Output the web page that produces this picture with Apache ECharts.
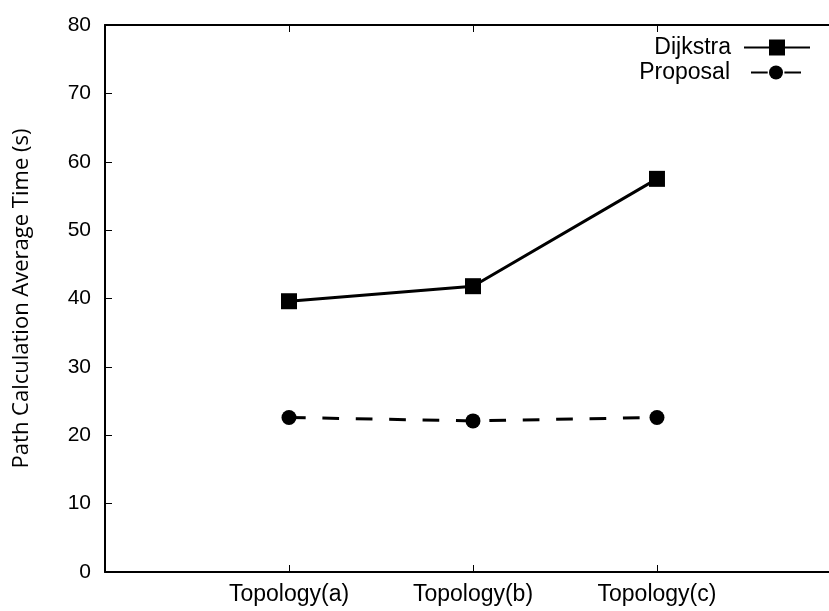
<!DOCTYPE html>
<html>
<head>
<meta charset="utf-8">
<script src="https://cdn.jsdelivr.net/npm/echarts@6/dist/echarts.min.js"></script>
<style>
  html, body { margin: 0; padding: 0; background: #fff; }
  #chart { width: 829px; height: 611px; }
</style>
</head>
<body>
<div id="chart"></div>
<script>
// topologies on the x axis, times in seconds
const categories = ['Topology(a)', 'Topology(b)', 'Topology(c)']
const dijkstra = [39.6, 41.8, 57.5]
const proposal = [22.6, 22.1, 22.6]
const yTicks = [0, 10, 20, 30, 40, 50, 60, 70, 80]

const toPoints = vals => categories.map((c, i) => [i + 1, vals[i]])
const catLabel = v => categories[v - 1] || ''

const myChart = echarts.init(document.getElementById('chart'))

const tickFont = { color: '#000', fontFamily: 'Liberation Sans', fontSize: 21 }
const bigFont = { ...tickFont, fontSize: 23 }
const xMax = 3.935 // the plot runs past the right edge of the picture

myChart.setOption({
	animation: false,
	backgroundColor: '#fff',
	grid: { left: 105, top: 25, bottom: 39, right: 0, containLabel: false },
	legend: [
		{
			data: ['Dijkstra'],
			right: 18, top: 36, padding: 0,
			align: 'right',
			itemWidth: 66, itemHeight: 20,
			textStyle: { ...bigFont, padding: [0, 8, 0, 0] }
		},
		{
			data: ['Proposal'],
			right: 27, top: 61, padding: 0,
			align: 'right',
			itemWidth: 50, itemHeight: 17.5,
			textStyle: { ...bigFont, padding: [0, 16, 0, 0] }
		}
	],
	xAxis: [
		{
			type: 'value', min: 0, max: xMax, interval: 1,
			axisLine: { lineStyle: { color: '#000', width: 2 } },
			axisTick: { inside: true, length: 7, lineStyle: { color: '#000', width: 1 } },
			axisLabel: { ...bigFont, margin: 11, formatter: catLabel, showMaxLabel: false },
			splitLine: { show: false }
		},
		{
			type: 'value', min: 0, max: xMax, interval: 1, position: 'top',
			axisLine: { lineStyle: { color: '#000', width: 2 } },
			axisTick: { inside: true, length: 7, lineStyle: { color: '#000', width: 1 } },
			axisLabel: { show: false },
			splitLine: { show: false }
		}
	],
	yAxis: {
		type: 'value', min: yTicks[0], max: yTicks[yTicks.length - 1], interval: 10,
		name: 'Path Calculation Average Time (s)',
		nameLocation: 'middle', nameGap: 72,
		nameTextStyle: { color: '#000', fontFamily: 'Open Sans', fontSize: 22 },
		axisLine: { show: true, lineStyle: { color: '#000', width: 2 } },
		axisTick: { inside: true, length: 7, lineStyle: { color: '#000', width: 1 } },
		axisLabel: { ...tickFont, margin: 14 },
		splitLine: { show: false }
	},
	series: [
		{
			name: 'Dijkstra', type: 'line',
			data: toPoints(dijkstra),
			symbol: 'rect', symbolSize: 16,
			itemStyle: { color: '#000' },
			lineStyle: { color: '#000', width: 3 }
		},
		{
			name: 'Proposal', type: 'line',
			data: toPoints(proposal),
			symbol: 'circle', symbolSize: 15,
			itemStyle: { color: '#000' },
			lineStyle: { color: '#000', width: 3, type: [16.7, 16.7] }
		}
	]
})
</script>
</body>
</html>
